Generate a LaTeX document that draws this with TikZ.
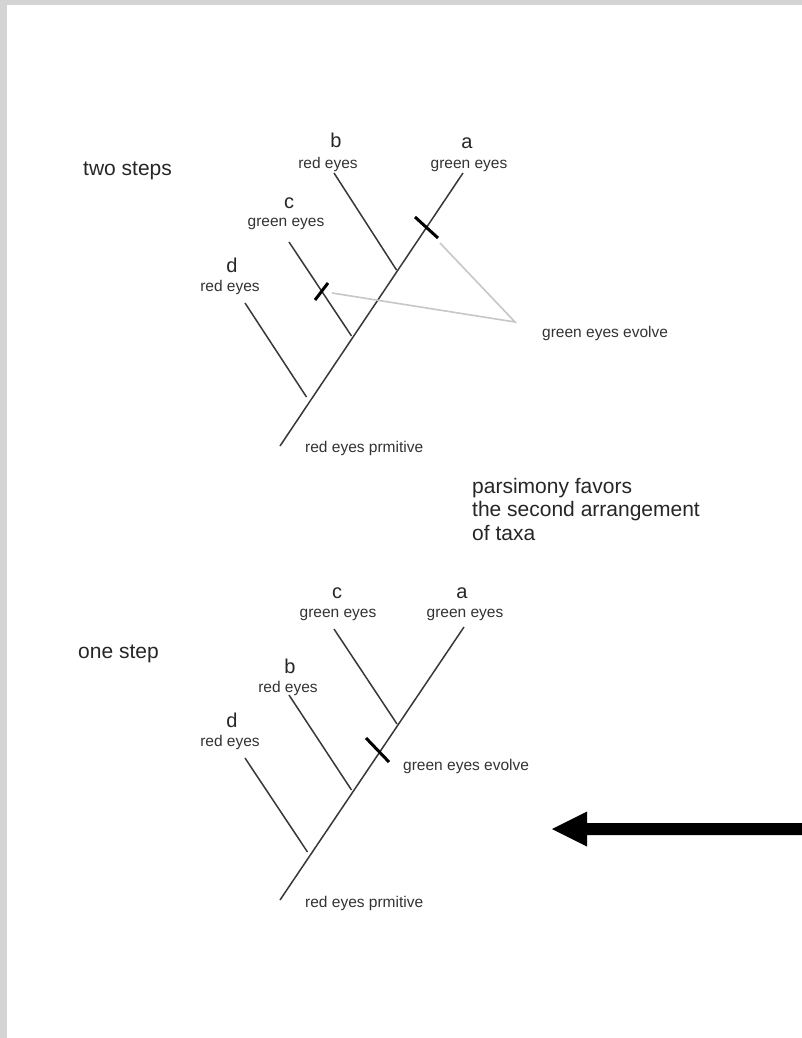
\documentclass[tikz,border=0pt]{standalone}
\usepackage{fontspec}
\setmainfont{Liberation Sans}
\begin{document}
\begin{tikzpicture}[x=1pt,y=-1pt,
  branch/.style={draw=black!78, line width=1.5pt},
  tick/.style={draw=black, line width=3pt},
  pointer/.style={draw=black!22, line width=1.6pt},
  bigtxt/.style={inner sep=0pt, font=\fontsize{21}{24}\selectfont, text=black!85},
  letter/.style={inner sep=0pt, anchor=base, font=\fontsize{20}{22}\selectfont, text=black!85},
  small/.style={inner sep=0pt, anchor=base, font=\fontsize{15.5}{17}\selectfont, text=black!80}]
\useasboundingbox (0,0) rectangle (802,1038);
\fill[white] (0,0) rectangle (802,1038);
\fill[black!17] (0,0) rectangle (7,1038);
\fill[black!17] (0,0) rectangle (802,5);

% ---------- tree 1 ----------
\coordinate (r1) at (280,446);
\coordinate (jd1) at (306.5,397);
\coordinate (jc1) at (351.5,336);
\coordinate (jb1) at (396.5,270);
\coordinate (ta1) at (463,173);
\coordinate (tb1) at (334,173);
\coordinate (tc1) at (289,242);
\coordinate (td1) at (245,303);
\draw[branch] (r1) -- (ta1);
\draw[branch] (tb1) -- (jb1);
\draw[branch] (tc1) -- (jc1);
\draw[branch] (td1) -- (jd1);
\coordinate (ka1) at (415,217); \coordinate (kb1) at (438,238);
\coordinate (kc1) at (315,300); \coordinate (kd1) at (328,283);
\coordinate (apex1) at (515,322);
\coordinate (pa1) at (440,243);
\coordinate (pc1) at (332,293);
\draw[pointer] (pa1) -- (apex1) -- (pc1);
\draw[tick] (ka1) -- (kb1);
\draw[tick] (kc1) -- (kd1);

\node[letter] (la1) at (467,148) {a};
\node[small] (ga1) at (469,168) {green eyes};
\node[letter] (lb1) at (336,147) {b};
\node[small] (rb1) at (328,168) {red eyes};
\node[letter] (lc1) at (289,208) {c};
\node[small] (gc1) at (286,226) {green eyes};
\node[letter] (ld1) at (232,272) {d};
\node[small] (rd1) at (230,291) {red eyes};
\node[small, anchor=base west] (ev1) at (542,337) {green eyes evolve};
\node[small, anchor=base west] (pr1) at (305,452) {red eyes prmitive};
\node[bigtxt, anchor=base west] (two) at (83,175) {two steps};

\node[bigtxt, anchor=base west] (pars1) at (472,493) {parsimony favors};
\node[bigtxt, anchor=base west] (pars2) at (472,516) {the second arrangement};
\node[bigtxt, anchor=base west] (pars3) at (472,540) {of taxa};

% ---------- tree 2 ----------
\coordinate (r2) at (280,900);
\coordinate (jd2) at (307.5,852);
\coordinate (jb2) at (351.5,790);
\coordinate (jc2) at (397,724);
\coordinate (ta2) at (464,627);
\coordinate (tc2) at (334,629);
\coordinate (tb2) at (289,695);
\coordinate (td2) at (245,758);
\draw[branch] (r2) -- (ta2);
\draw[branch] (tc2) -- (jc2);
\draw[branch] (tb2) -- (jb2);
\draw[branch] (td2) -- (jd2);
\coordinate (k2a) at (366,738); \coordinate (k2b) at (389,762);
\draw[tick] (k2a) -- (k2b);

\node[letter] (la2) at (462,598) {a};
\node[small] (ga2) at (465,617) {green eyes};
\node[letter] (lc2) at (337,598) {c};
\node[small] (gc2) at (338,617) {green eyes};
\node[letter] (lb2) at (290,673) {b};
\node[small] (rb2) at (288,692) {red eyes};
\node[letter] (ld2) at (232,727) {d};
\node[small] (rd2) at (230,746) {red eyes};
\node[small, anchor=base west] (ev2) at (403,770) {green eyes evolve};
\node[small, anchor=base west] (pr2) at (305,907) {red eyes prmitive};
\node[bigtxt, anchor=base west] (one) at (78,658) {one step};

% ---------- arrow ----------
\coordinate (arrR) at (802,829);
\coordinate (arrT) at (552,829);
\fill[black] (arrR) ++(0,-6) -- (587,823) -- (587,811.5) -- (arrT) -- (587,846.5) -- (587,835) -- (802,835) -- cycle;
\end{tikzpicture}
\end{document}
